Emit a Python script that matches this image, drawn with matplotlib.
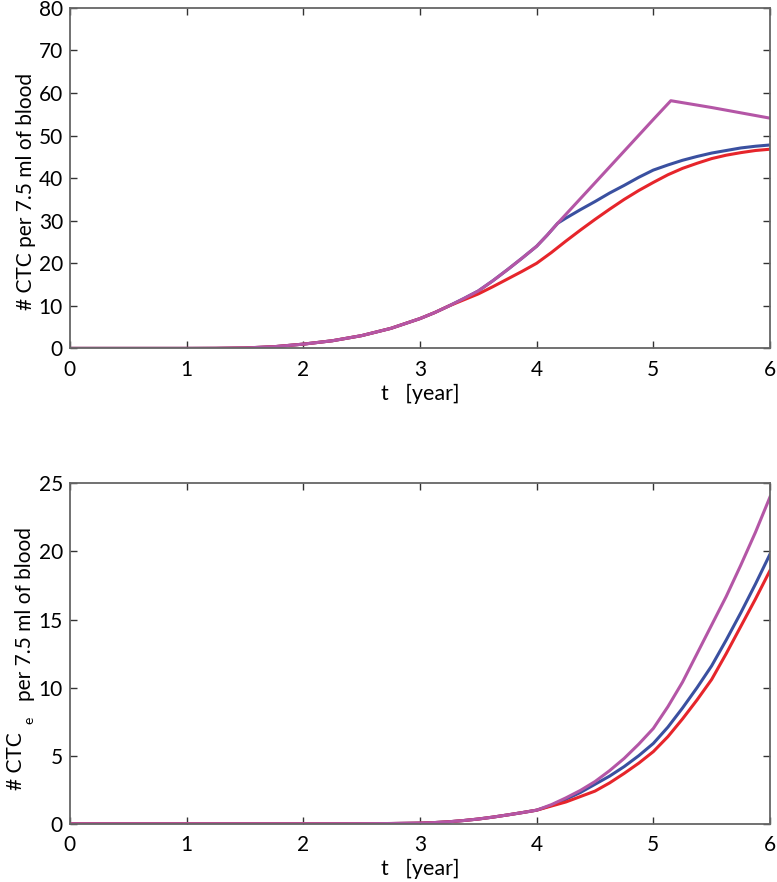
import matplotlib.pyplot as plt
import numpy as np

plt.rcParams["font.family"] = ["Lato", "DejaVu Sans"]

# top panel: CTC in blood
t_common = [0, 0.25, 0.5, 0.75, 1.0, 1.25, 1.5, 1.75, 2.0, 2.25, 2.5, 2.75, 3.0, 3.125, 3.25]
ctc_common = [0, 0, 0, 0, 0, 0.02, 0.1, 0.4, 1.0, 1.8, 3.0, 4.7, 7.0, 8.4, 10.0]

t_purple_top = t_common + [3.375, 3.5, 3.625, 3.75, 3.875, 4.0, 4.09, 4.18, 4.5, 5.0, 5.15,
                           5.5, 6.0]
ctc_purple = ctc_common + [11.7, 13.5, 15.9, 18.5, 21.2, 24.0, 26.6, 29.4, 38.9, 53.8, 58.2,
                           56.6, 54.1]

t_blue_top = t_common + [3.375, 3.5, 3.625, 3.75, 3.875, 4.0, 4.09, 4.18, 4.25, 4.375, 4.5,
                         4.625, 4.75, 4.875, 5.0, 5.125, 5.25, 5.375, 5.5, 5.625, 5.75,
                         5.875, 6.0]
ctc_blue = ctc_common + [11.7, 13.5, 15.9, 18.5, 21.2, 24.0, 26.6, 29.4, 30.6, 32.6, 34.5,
                         36.5, 38.3, 40.2, 41.9, 43.1, 44.2, 45.1, 45.9, 46.5, 47.1,
                         47.5, 47.8]

t_red_top = t_common + [3.375, 3.5, 3.625, 3.75, 3.875, 4.0, 4.125, 4.25, 4.375, 4.5,
                        4.625, 4.75, 4.875, 5.0, 5.125, 5.25, 5.375, 5.5, 5.625, 5.75,
                        5.875, 6.0]
ctc_red = ctc_common + [11.4, 12.8, 14.5, 16.3, 18.1, 20.0, 22.5, 25.2, 27.8, 30.3,
                        32.7, 35.0, 37.1, 39.0, 40.8, 42.3, 43.5, 44.6, 45.4, 46.0,
                        46.5, 46.8]

# bottom panel: CTC_e in blood
t_bot = [0, 0.5, 1.0, 1.5, 2.0, 2.5, 2.75, 3.0, 3.125, 3.25, 3.375, 3.5, 3.625, 3.75,
         3.875, 4.0, 4.125, 4.25, 4.375, 4.5, 4.625, 4.75, 4.875, 5.0, 5.125, 5.25,
         5.375, 5.5, 5.625, 5.75, 5.875, 6.0]
ctce_common = [0, 0, 0, 0, 0, 0.01, 0.02, 0.05, 0.09, 0.15, 0.24, 0.35, 0.49, 0.65,
               0.82, 1.0]
ctce_purple = ctce_common + [1.4, 1.9, 2.45, 3.1, 3.9, 4.8, 5.85, 7.0, 8.6, 10.4,
                             12.5, 14.6, 16.7, 19.0, 21.4, 24.0]
ctce_blue = ctce_common + [1.35, 1.8, 2.3, 2.9, 3.5, 4.2, 5.0, 5.9, 7.1, 8.5,
                           10.0, 11.6, 13.5, 15.5, 17.6, 19.8]
ctce_red = ctce_common + [1.3, 1.6, 2.0, 2.4, 3.0, 3.7, 4.45, 5.3, 6.4, 7.7,
                          9.1, 10.6, 12.5, 14.5, 16.5, 18.6]

c_blue = "#3a50a0"
c_red = "#e6252b"
c_purple = "#b456a6"
lw = 2.2
fs = 15

fig = plt.figure(figsize=(7.77, 8.82), dpi=100)
ax1 = fig.add_axes([0.090, 0.605, 0.901, 0.386])
ax2 = fig.add_axes([0.090, 0.066, 0.901, 0.386])

ax1.plot(t_blue_top, ctc_blue, color=c_blue, lw=lw)
ax1.plot(t_red_top, ctc_red, color=c_red, lw=lw)
ax1.plot(t_purple_top, ctc_purple, color=c_purple, lw=lw)
ax1.set_ylim(0, 80)
ax1.set_yticks(np.arange(0, 81, 10))

ax2.plot(t_bot, ctce_blue, color=c_blue, lw=lw)
ax2.plot(t_bot, ctce_red, color=c_red, lw=lw)
ax2.plot(t_bot, ctce_purple, color=c_purple, lw=lw)
ax2.set_ylim(0, 25)
ax2.set_yticks(np.arange(0, 26, 5))

for ax in (ax1, ax2):
    ax.set_xlim(0, 6)
    ax.set_xticks(range(7))
    ax.set_xlabel("t   [year]", fontsize=fs + 0.5, labelpad=3)
    ax.tick_params(axis="both", direction="in", top=True, right=True, length=5,
                   width=1.0, color="#333333", labelsize=15)
    ax.tick_params(axis="x", pad=8)
    ax.tick_params(axis="y", pad=5)
    for sp in ax.spines.values():
        sp.set_color("#666666")
        sp.set_linewidth(1.3)

# y labels (MATLAB-style, the bottom one with a raised "# CTC" and a small "e")
W, H = 777, 882
rot = dict(rotation=90, rotation_mode="anchor", ha="left", va="baseline")
fig.text(32 / W, 1 - 310 / H, "# CTC per 7.5 ml of blood", fontsize=fs, **rot)
fig.text(22 / W, 1 - 790 / H, "# CTC", fontsize=fs, **rot)
fig.text(33 / W, 1 - 724 / H, "e", fontsize=10, **rot)
fig.text(31 / W, 1 - 701 / H, "per 7.5 ml of blood", fontsize=fs, **rot)

plt.savefig("out.png", dpi=100)
